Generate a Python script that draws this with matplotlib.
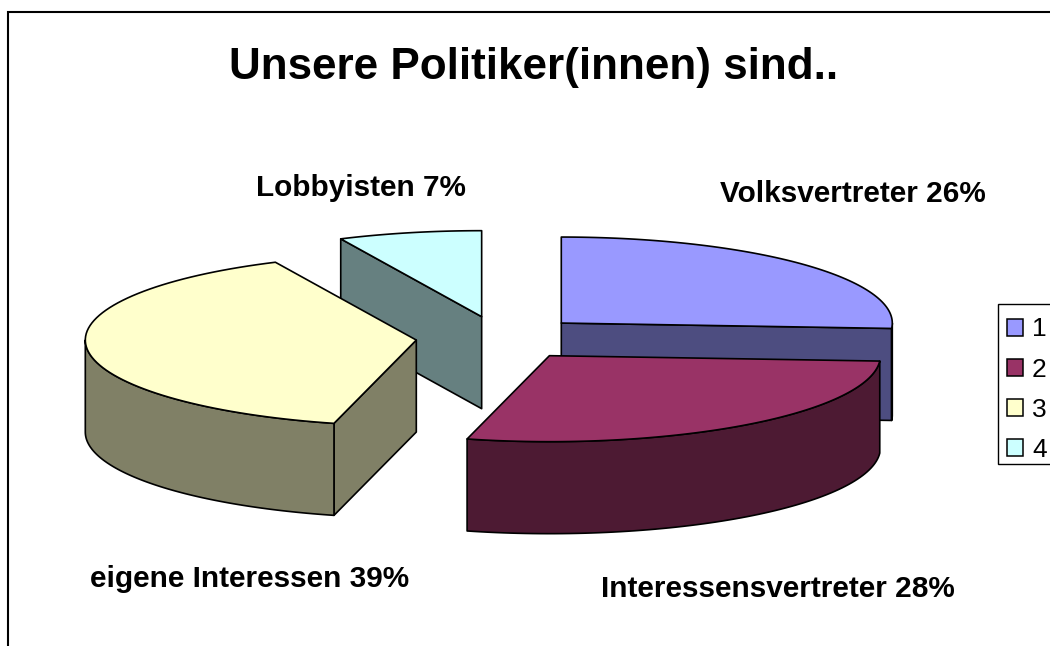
import numpy as np
import matplotlib
matplotlib.use("Agg")
import matplotlib.pyplot as plt
from matplotlib.patches import Polygon, Patch, Rectangle

plt.rcParams['font.family'] = ['Liberation Sans', 'DejaVu Sans']

title = "Unsere Politiker(innen) sind.."
legend_labels = ["1", "2", "3", "4"]
slice_names = ["Volksvertreter", "Interessensvertreter", "eigene Interessen", "Lobbyisten"]
shares = [26, 28, 39, 7]
colors = ["#9999FF", "#993366", "#FFFFCC", "#CCFFFF"]
side_colors = ["#4D4D80", "#4D1A33", "#808066", "#668080"]
label_pos = [(853, 194), (778, 589), (250, 579), (361, 188)]

# pie geometry in pixels
cx, cy = 500, 338
rx, ry = 331, 86
depth = 92
explode = 0.254
lw = 1.2


def point(apex, a):
    return apex[0] + rx * np.sin(a), apex[1] - ry * np.cos(a)


def arc(apex, a0, a1):
    t = np.linspace(a0, a1, 80)
    return np.column_stack(point(apex, t))


fig = plt.figure(figsize=(10.5, 6.46), dpi=100)
ax = fig.add_axes([0, 0, 1, 1])
ax.set_xlim(0, 1050)
ax.set_ylim(646, 0)
ax.axis("off")

ax.add_patch(Rectangle((7.5, 12), 1100, 700, fc="white", ec="black", lw=1.5))
ax.add_patch(Rectangle((997.5, 304), 100, 160, fc="white", ec="black", lw=1.0))

edges = np.cumsum([0] + shares) / sum(shares) * 2 * np.pi

# back to front
for i in [3, 0, 2, 1]:
    a0, a1 = edges[i], edges[i + 1]
    mid = (a0 + a1) / 2
    apex = (cx + explode * rx * np.sin(mid), cy - explode * ry * np.cos(mid))
    down = np.array([0, depth])

    # flat cut faces that look towards the viewer
    for a, visible in [(a0, np.sin(a0) < -1e-6), (a1, np.sin(a1) > 1e-6)]:
        if visible:
            p = np.array(point(apex, a))
            q = np.array(apex)
            ax.add_patch(Polygon([q, p, p + down, q + down], fc=side_colors[i], ec="black", lw=lw, joinstyle="round"))

    # rounded outer wall
    lo, hi = max(a0, np.pi / 2), min(a1, 3 * np.pi / 2)
    if lo < hi:
        rim = arc(apex, lo, hi)
        ax.add_patch(Polygon(np.vstack([rim, rim[::-1] + down]), fc=side_colors[i], ec="black", lw=lw, joinstyle="round"))

    # top face
    top = np.vstack([[apex], arc(apex, a0, a1)])
    ax.add_patch(Polygon(top, fc=colors[i], ec="black", lw=lw, joinstyle="round"))

ax.text(534, 67, title, fontsize=31.7, fontweight="bold", ha="center", va="center")

for name, share, (x, y) in zip(slice_names, shares, label_pos):
    ax.text(x, y, f"{name} {share}%", fontsize=21.4, fontweight="bold", ha="center", va="center")

# frame drawn above because the reference legend has uneven padding
handles = [Patch(fc=c, ec="black", lw=1.1) for c in colors]
fig.legend(handles, legend_labels, loc="upper left", bbox_to_anchor=(998.5 / 1050, 1 - 309 / 646),
           borderaxespad=0, fontsize=19, frameon=False,
           handlelength=0.6, handleheight=0.6, handletextpad=0.35, labelspacing=0.61, borderpad=0.32)

fig.savefig("out.png", dpi=100)
